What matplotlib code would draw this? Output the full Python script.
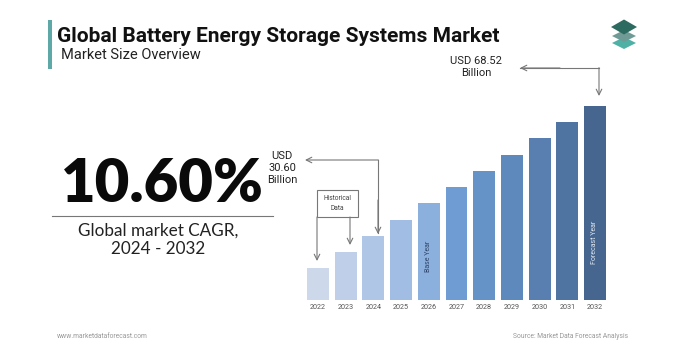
import matplotlib
matplotlib.use("Agg")
import matplotlib.pyplot as plt
from matplotlib.patches import Polygon, Rectangle

# ---- data ----
years = ["2022", "2023", "2024", "2025", "2026", "2027", "2028", "2029", "2030", "2031", "2032"]
values = [11.3, 17.0, 22.6, 28.3, 34.3, 39.9, 45.6, 51.2, 57.2, 62.9, 68.52]
bar_colors = ["#cdd8ea", "#bfcfe9", "#b0c6e6", "#a2bde3", "#8cb0de", "#6f9dd3",
              "#6592c7", "#5d89bc", "#587fb0", "#4f74a2", "#466690"]
title = "Global Battery Energy Storage Systems Market"
subtitle = "Market Size Overview"
cagr = "10.60%"
cagr_label = "Global market CAGR,\n2024 - 2032"
start_label = "USD\n30.60\nBillion"
end_label = "USD 68.52\nBillion"

W, H = 690, 358
fig = plt.figure(figsize=(W / 100, H / 100), dpi=100)
fig.patch.set_facecolor("white")

# overlay axes in pixel coordinates
ov = fig.add_axes([0, 0, 1, 1], zorder=5)
ov.set_xlim(0, W)
ov.set_ylim(H, 0)
ov.axis("off")
ov.patch.set_alpha(0)

# bar axes
L, R = 300, 613
base, top = 300, 88
ax = fig.add_axes([L / W, (H - base) / H, (R - L) / W, (base - top) / H], zorder=2)
x = list(range(len(years)))
ax.bar(x, values, width=0.79, color=bar_colors)
ax.set_xlim(-0.65, 10.65)
ax.set_ylim(0, 75)
ax.axis("off")
for xi, yr in zip(x, years):
    ax.text(xi, -1.5, yr, ha="center", va="top", fontsize=5.2, color="#555555",
            family="Roboto")
ax.text(4, values[4] * 0.45, "Base Year", rotation=90, ha="center", va="center",
        fontsize=5, color="#2d4468", family="Roboto")
ax.text(10, values[10] * 0.3, "Forecast Year", rotation=90, ha="center", va="center",
        fontsize=5, color="#dfe6f0", family="Roboto")

# title block
ov.add_patch(Rectangle((48, 20), 3.5, 49, color="#5fa8a8", lw=0))
ov.text(57, 37, title, fontsize=15, fontweight="bold", family="Roboto",
        color="#111111", va="center", ha="left")
ov.text(61, 55, subtitle, fontsize=10.5, family="Roboto", color="#222222",
        va="center", ha="left")

# logo
def diamond(cx, cy, w, h, c):
    ov.add_patch(Polygon([(cx - w / 2, cy), (cx, cy - h / 2), (cx + w / 2, cy), (cx, cy + h / 2)],
                         closed=True, color=c, lw=0))
diamond(624, 43, 24, 12, "#4fb0a5")
diamond(624, 36, 24, 12, "#6f9a96")
diamond(624, 27, 26, 15, "#2d6b60")

# CAGR block
ov.text(162, 184, cagr, fontsize=43, fontweight="heavy", family="Lato",
        color="#0a0a0a", ha="center", va="center")
ov.plot([52, 273], [216, 216], color="#777777", lw=0.8)
ov.text(158, 240, cagr_label, fontsize=12.3, family="Lato", color="#222222",
        ha="center", va="center", linespacing=1.2)

# annotations
ov.text(282, 168, start_label, fontsize=8, family="Roboto", color="#222222",
        ha="center", va="center", linespacing=1.2)
ov.plot([378, 378], [160, 233], color="#777777", lw=0.8)
ov.annotate("", xy=(305, 160), xytext=(378.4, 160),
            arrowprops=dict(arrowstyle="->", color="#777777", lw=0.8, shrinkA=0, shrinkB=0))
ov.annotate("", xy=(378, 234), xytext=(378, 200),
            arrowprops=dict(arrowstyle="->", color="#777777", lw=0.8, shrinkA=0, shrinkB=0))

ov.text(476, 67, end_label, fontsize=8, family="Roboto", color="#222222",
        ha="center", va="center", linespacing=1.2)
ov.plot([520, 599], [68, 68], color="#777777", lw=0.8)
ov.annotate("", xy=(520, 68), xytext=(560, 68),
            arrowprops=dict(arrowstyle="->", color="#777777", lw=0.8, shrinkA=0, shrinkB=0))
ov.annotate("", xy=(599, 96), xytext=(599, 67.6),
            arrowprops=dict(arrowstyle="->", color="#777777", lw=0.8, shrinkA=0, shrinkB=0))

# historical data box
ov.add_patch(Rectangle((317, 190), 41, 27, fill=False, ec="#777777", lw=0.8))
ov.text(337.5, 203.5, "Historical\nData", fontsize=4.8, family="Roboto", color="#444444",
        ha="center", va="center", linespacing=1.4)
ov.annotate("", xy=(317, 261), xytext=(317, 217),
            arrowprops=dict(arrowstyle="->", color="#777777", lw=0.8, shrinkA=0, shrinkB=0))
ov.annotate("", xy=(350, 245), xytext=(350, 217),
            arrowprops=dict(arrowstyle="->", color="#777777", lw=0.8, shrinkA=0, shrinkB=0))

# footer
ov.text(57, 337, "www.marketdataforecast.com", fontsize=4.9, family="Roboto",
        color="#999999", ha="left", va="center")
ov.text(628, 337, "Source: Market Data Forecast Analysis", fontsize=4.9, family="Roboto",
        color="#999999", ha="right", va="center")

fig.savefig("out.png", dpi=100, facecolor="white")
